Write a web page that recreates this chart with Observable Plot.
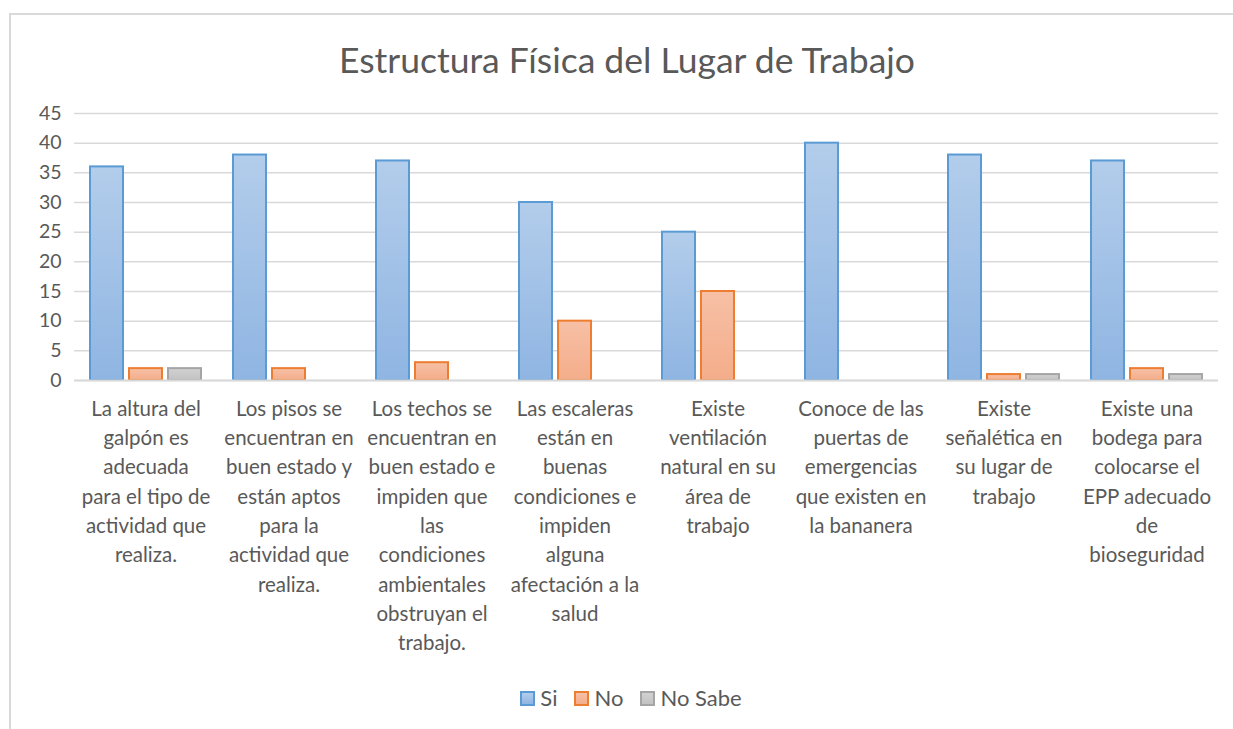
<!DOCTYPE html>
<html>
<head>
<meta charset="utf-8">
<script src="https://cdn.jsdelivr.net/npm/d3@7"></script>
<script src="https://cdn.jsdelivr.net/npm/@observablehq/plot@0.6"></script>
<style>
  html, body { margin: 0; padding: 0; background: #fff; }
  body { width: 1233px; height: 729px; position: relative; overflow: hidden; font-family: Lato, "Open Sans", sans-serif; color: #595959; }
  #frame { position: absolute; left: 9px; top: 13px; width: 1240px; height: 730px; border: 2px solid #d9d9d9; box-sizing: border-box; }
  #title { position: absolute; left: 0; top: 36px; width: 1254px; text-align: center; font-size: 35.5px; line-height: 48px; color: #595959; }
  #chart { position: absolute; left: 0; top: 95px; }
  #legend { position: absolute; left: 0; top: 683px; width: 1262px; display: flex; justify-content: center; gap: 17px; font-size: 22px; line-height: 30px; }
  .item { display: flex; align-items: center; gap: 5px; }
  .sw { width: 11px; height: 11px; border: 2px solid; }
</style>
</head>
<body>
<div id="frame"></div>
<div id="title">Estructura Física del Lugar de Trabajo</div>
<div id="chart"></div>
<div id="legend"></div>
<script>
const categories = [
  "La altura del\ngalpón es\nadecuada\npara el tipo de\nactividad que\nrealiza.",
  "Los pisos se\nencuentran en\nbuen estado y\nestán aptos\npara la\nactividad que\nrealiza.",
  "Los techos se\nencuentran en\nbuen estado e\nimpiden que\nlas\ncondiciones\nambientales\nobstruyan el\ntrabajo.",
  "Las escaleras\nestán en\nbuenas\ncondiciones e\nimpiden\nalguna\nafectación a la\nsalud",
  "Existe\nventilación\nnatural en su\nárea de\ntrabajo",
  "Conoce de las\npuertas de\nemergencias\nque existen en\nla bananera",
  "Existe\nseñalética en\nsu lugar de\ntrabajo",
  "Existe una\nbodega para\ncolocarse el\nEPP adecuado\nde\nbioseguridad"
];
const series = ["Si", "No", "No Sabe"];
const si = [36, 38, 37, 30, 25, 40, 38, 37];
const no = [2, 2, 3, 10, 15, 0, 1, 2];
const noSabe = [2, 0, 0, 0, 0, 0, 1, 1];
const yTicks = [0, 5, 10, 15, 20, 25, 30, 35, 40, 45];

const styles = {
  "Si": {fill: "url(#gSi)", stroke: "#5b9bd5", top: "#b3cdeb", bottom: "#8fb5e2"},
  "No": {fill: "url(#gNo)", stroke: "#ed7d31", top: "#f7c0a6", bottom: "#f4ad8a"},
  "No Sabe": {fill: "url(#gNs)", stroke: "#a5a5a5", top: "#d2d2d2", bottom: "#c2c2c2"}
};
const gradIds = {"Si": "gSi", "No": "gNo", "No Sabe": "gNs"};

const rows = [];
categories.forEach((c, i) => {
  rows.push({cat: c, s: "Si", v: si[i]});
  rows.push({cat: c, s: "No", v: no[i]});
  rows.push({cat: c, s: "No Sabe", v: noSabe[i]});
});

const barMarks = series.map(s => Plot.barY(rows.filter(d => d.s === s && d.v > 0), {
  fx: "cat", x: "s", y: "v",
  fill: styles[s].fill, stroke: styles[s].stroke, strokeWidth: 2, inset: 0
}));

const svg = Plot.plot({
  width: 1233,
  height: 580,
  marginTop: 18,
  marginBottom: 295,
  marginLeft: 73,
  marginRight: 15,
  style: {fontFamily: "Lato, 'Open Sans', sans-serif", color: "#595959", background: "transparent"},
  fx: {domain: categories, padding: 0, label: null},
  x: {domain: series, paddingInner: 0.154, paddingOuter: 0.41, axis: null},
  y: {domain: [0, 45], label: null},
  marks: [
    Plot.gridY(yTicks, {stroke: "#d9d9d9", strokeOpacity: 1, strokeWidth: 1.5}),
    ...barMarks,
    Plot.ruleY([0], {stroke: "#d9d9d9", strokeWidth: 2}),
    Plot.axisY(yTicks, {tickSize: 0, tickPadding: 13, fontSize: 19.5, label: null, fill: "#595959"}),
    Plot.axisFx({anchor: "bottom", tickSize: 0, tickPadding: 14.5, fontSize: 20.5, lineHeight: 1.43, label: null, fill: "#595959"})
  ]
});

const defs = d3.select(svg).insert("defs", ":first-child");
series.forEach(s => {
  const g = defs.append("linearGradient").attr("id", gradIds[s]).attr("x1", 0).attr("y1", 0).attr("x2", 0).attr("y2", 1);
  g.append("stop").attr("offset", "0%").attr("stop-color", styles[s].top);
  g.append("stop").attr("offset", "100%").attr("stop-color", styles[s].bottom);
});
document.getElementById("chart").appendChild(svg);

const legend = d3.select("#legend");
series.forEach(s => {
  const it = legend.append("div").attr("class", "item");
  it.append("div").attr("class", "sw")
    .style("background", `linear-gradient(${styles[s].top}, ${styles[s].bottom})`)
    .style("border-color", styles[s].stroke);
  it.append("span").text(s);
});
</script>
</body>
</html>
